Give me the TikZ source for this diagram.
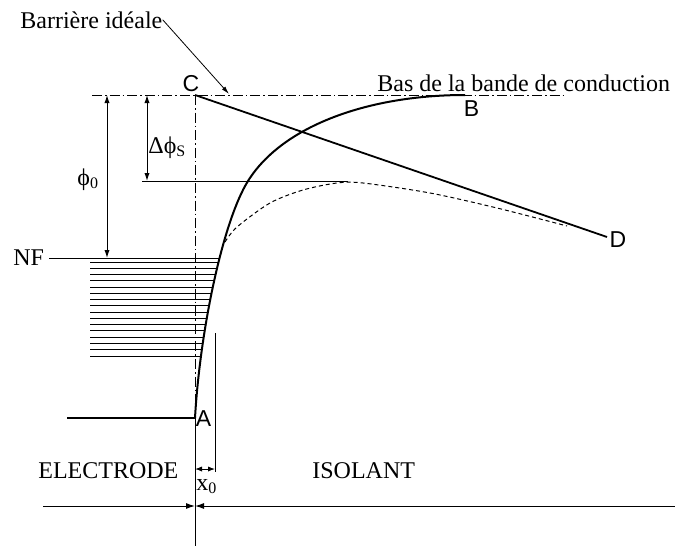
\documentclass[tikz,border=0pt]{standalone}
\usepackage{fontspec}
\setmainfont{Liberation Serif}
\newfontfamily\arialf{Liberation Sans}
\usetikzlibrary{arrows.meta}
\begin{document}
\begin{tikzpicture}[x=0.5pt,y=-0.5pt,
  txt/.style={font=\fontsize{12}{14}\selectfont, inner sep=0pt},
  ptlabel/.style={font=\arialf\fontsize{11.5}{13}\selectfont, inner sep=0pt},
  thinl/.style={line width=0.5pt},
  thickl/.style={line width=1pt},
  dashdot/.style={line width=0.5pt, dash pattern=on 5pt off 1.5pt on 0.8pt off 1.5pt},
  dashc/.style={line width=0.5pt, dash pattern=on 2pt off 1.5pt},
  dimarrow/.style={line width=0.5pt, {Latex[length=4pt,width=2.6pt]}-{Latex[length=4pt,width=2.6pt]}},
  smalldim/.style={line width=0.5pt, {Latex[length=3.5pt,width=2.6pt]}-{Latex[length=3.5pt,width=2.6pt]}},
  tiparrow/.style={line width=0.5pt, -{Latex[length=4.5pt,width=3pt]}},
]
\useasboundingbox (0,0) rectangle (675,546);

% key coordinates
\coordinate (C) at (195,95);
\coordinate (A) at (195,418);
\coordinate (B) at (465,95);
\coordinate (K) at (248,181);
\coordinate (D) at (607,237);
\coordinate (topL) at (92,95);
\coordinate (topR) at (565,95);
\coordinate (bot) at (195,546);

% labels
\node[txt, anchor=base west] (bi) at (20,28) {Barrière idéale};
\node[txt, anchor=base west] (bas) at (377,91) {Bas de la bande de conduction};
\node[txt, anchor=base west] (NF) at (13,265) {NF};
\node[txt, anchor=base west] (el) at (38,478) {ELECTRODE};
\node[txt, anchor=base west] (iso) at (312,478) {ISOLANT};
\node[txt, anchor=base west] (x0) at (196,490) {x\textsubscript{0}};
\node[txt, anchor=base west] (phi0) at (77,185) {ϕ\textsubscript{0}};
\node[txt, anchor=base west] (dphi) at (148,153) {Δϕ\textsubscript{S}};
\node[ptlabel] (lA) at (203.5,418.5) {A};
\node[ptlabel] (lB) at (471.5,108.5) {B};
\node[ptlabel] (lC) at (191,83.5) {C};
\node[ptlabel] (lD) at (618,240) {D};

% dash-dot reference lines
\draw[dashdot] (topL) -- (topR);
\draw[dashdot] (C) -- (A);
\draw[thinl] (A) -- (bot);

% Fermi level hatching (clipped by the curve)
\begin{scope}
  \clip (A) .. controls (200,330) and (223,221) .. (K) .. controls (283,125) and (370,95) .. (B) -- (0,95) -- (0,418) -- cycle;
  \coordinate (nf1) at (49,258);
  \draw[thinl] (nf1) -- (300,258);
  \foreach \i in {0,...,15}
    \draw[thinl] (90,{262+\i*6.27}) -- (300,{262+\i*6.27});
\end{scope}

% conduction band curve A-B
\draw[thickl] (A) .. controls (200,330) and (223,221) .. (K) .. controls (283,125) and (370,95) .. (B);

% line C-D
\draw[line width=0.9pt] (C) -- (D);

% metal level
\coordinate (mL) at (67,418);
\draw[thickl] (mL) -- (A);

% dashed real barrier
\draw[dashc] plot[smooth] coordinates {(225,242) (237,227) (270,203) (303,190) (337,183) (363,183) (430,193) (497,208) (567,226)};

% Delta phi_S level
\coordinate (ds1) at (142,181);
\coordinate (ds2) at (348,181);
\draw[thinl] (ds1) -- (ds2);

% dimension arrows
\coordinate (p0t) at (107,95);
\coordinate (p0b) at (107,258);
\draw[dimarrow] (p0t) -- (p0b);
\coordinate (dst) at (147,95);
\coordinate (dsb) at (147,181);
\draw[dimarrow] (dst) -- (dsb);

% x0
\coordinate (x0t) at (215,333);
\coordinate (x0b) at (215,472);
\draw[thinl] (x0t) -- (x0b);
\coordinate (x0l) at (195,469);
\coordinate (x0r) at (215,469);
\draw[smalldim] (x0l) -- (x0r);

% bottom axis
\coordinate (bl) at (43,506);
\coordinate (br) at (675,506);
\coordinate (bm) at (195,506);
\draw[tiparrow] (bl) -- (bm);
\draw[tiparrow] (br) -- (bm);

% Barriere ideale pointer
\coordinate (bitip) at (229,94);
\draw[line width=0.4pt, -{Latex[length=4pt,width=2.2pt]}] (bi.east) -- (bitip);
\end{tikzpicture}
\end{document}
